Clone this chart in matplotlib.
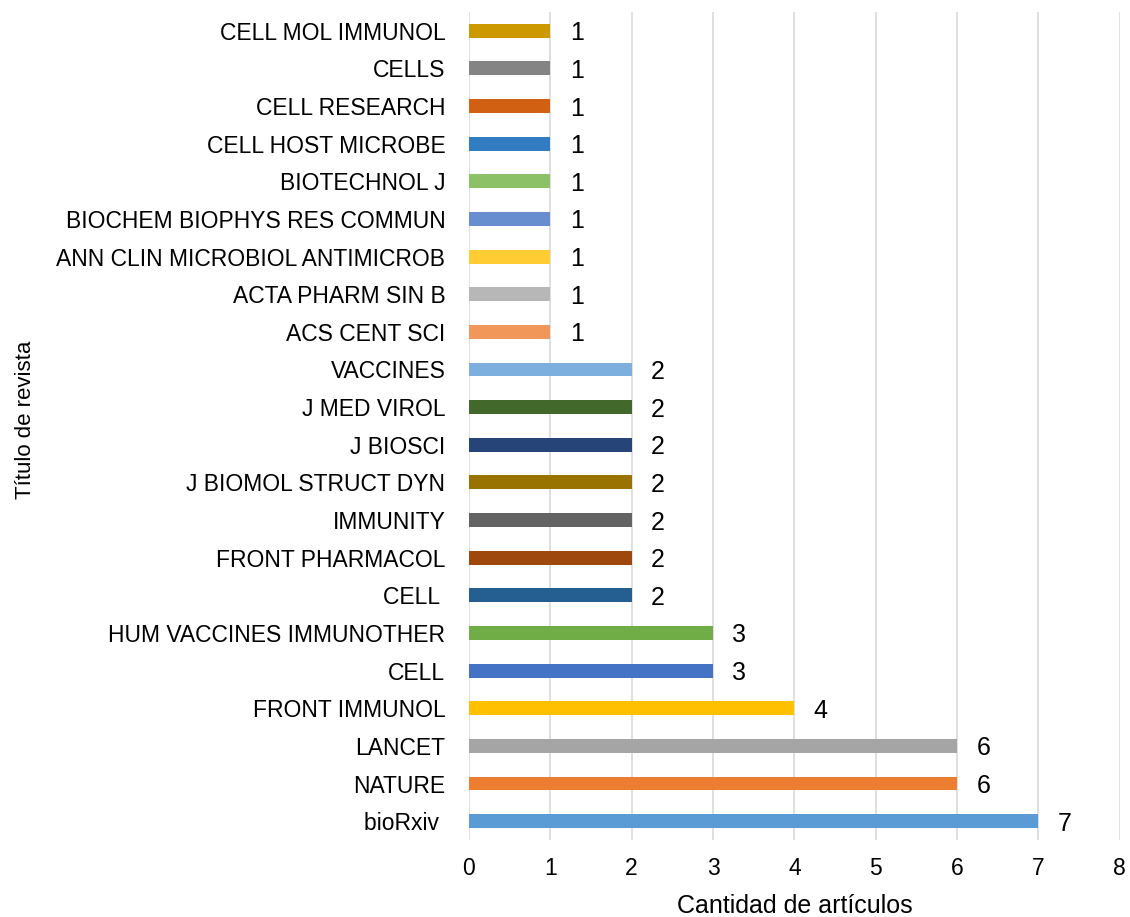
import matplotlib
matplotlib.use("Agg")
import matplotlib.pyplot as plt

plt.rcParams['font.family'] = ['Liberation Sans', 'DejaVu Sans']

journals = ["bioRxiv ", "NATURE", "LANCET", "FRONT IMMUNOL", "CELL",
            "HUM VACCINES IMMUNOTHER", "CELL ", "FRONT PHARMACOL", "IMMUNITY",
            "J BIOMOL STRUCT DYN", "J BIOSCI", "J MED VIROL", "VACCINES",
            "ACS CENT SCI", "ACTA PHARM SIN B", "ANN CLIN MICROBIOL ANTIMICROB",
            "BIOCHEM BIOPHYS RES COMMUN", "BIOTECHNOL J", "CELL HOST MICROBE",
            "CELL RESEARCH", "CELLS", "CELL MOL IMMUNOL"]
counts = [7, 6, 6, 4, 3, 3, 2, 2, 2, 2, 2, 2, 2, 1, 1, 1, 1, 1, 1, 1, 1, 1]
colors = ["#5B9BD5", "#ED7D31", "#A5A5A5", "#FFC000", "#4472C4", "#70AD47",
          "#255E91", "#9E480E", "#636363", "#997300", "#264478", "#43682B",
          "#7CAFDD", "#F1975A", "#B7B7B7", "#FFCD33", "#698ED0", "#8CC168",
          "#327DC2", "#D26012", "#848484", "#CC9A00"]
xticks = [0, 1, 2, 3, 4, 5, 6, 7, 8]

fig = plt.figure(figsize=(11.3, 9.17), dpi=100)
ax = fig.add_axes([0.415, 0.084, 0.576, 0.903])

ypos = list(range(len(journals)))
ax.barh(ypos, counts, height=0.37, color=colors, zorder=3)
for y, v in zip(ypos, counts):
    ax.annotate(str(v), (v, y), xytext=(14, 0), textcoords='offset points',
                ha='left', va='center_baseline', fontsize=18, color='#000000')

ax.set_xlim(0, 8)
ax.set_ylim(-0.5, len(journals) - 0.5)
ax.set_xticks(xticks)
ax.set_xticklabels([str(t) for t in xticks], fontsize=16.5)
ax.set_yticks(ypos)
ax.set_yticklabels(journals, fontsize=16.5)
ax.tick_params(axis='both', length=0)
ax.tick_params(axis='x', pad=12)
ax.tick_params(axis='y', pad=17)
ax.grid(axis='x', color='#D9D9D9', linewidth=1.2, zorder=0)
for s in ax.spines.values():
    s.set_visible(False)

ax.set_xlabel("Cantidad de artículos", fontsize=18, labelpad=10)
ax.set_ylabel("Título de revista", fontsize=16)
ax.yaxis.set_label_coords(-0.665, 0.507)

fig.savefig("out.png", dpi=100)
